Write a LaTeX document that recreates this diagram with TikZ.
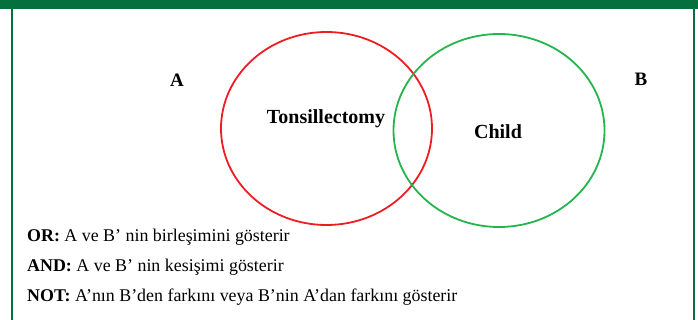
\documentclass[tikz,border=0pt]{standalone}
\usepackage{fontspec}
\setmainfont{Liberation Serif}
\usetikzlibrary{shapes.geometric}
\definecolor{framegreen}{RGB}{4,112,62}
\definecolor{setred}{RGB}{236,30,36}
\definecolor{setgreen}{RGB}{38,180,78}
\tikzstyle{setring}=[draw,ellipse,line width=1.8pt,minimum width=211pt,minimum height=193pt,inner sep=0pt]
\tikzstyle{setname}=[font=\fontsize{20}{22}\selectfont\bfseries,inner sep=0pt]
\tikzstyle{legendline}=[anchor=base west,font=\fontsize{17.9}{20}\selectfont,inner sep=0pt]

\begin{document}
\begin{tikzpicture}[x=1pt,y=-1pt]
\useasboundingbox (0,0) rectangle (698,320);
% frame
\fill[framegreen] (0,0) rectangle (698,9);
\fill[framegreen] (11,9) rectangle (13,320);
\fill[framegreen] (693,9) rectangle (695,320);
% sets
\node [setring,setred] (ringA) at (326.5,128.5) {};
\node [setring,setgreen] (ringB) at (499,130.5) {};
\node [setname] (tonsil) at (326,119) {Tonsillectomy};
\node [setname] (child) at (498,132) {Child};
\node [setname,font=\fontsize{19}{20}\selectfont\bfseries] (labA) at (177,80) {A};
\node [setname,font=\fontsize{19}{20}\selectfont\bfseries] (labB) at (641,79) {B};
% legend
\node [legendline] (orline) at (27,242) {\textbf{OR:} A ve B’ nin birleşimini gösterir};
\node [legendline] (andline) at (27,271) {\textbf{AND:} A ve B’ nin kesişimi gösterir};
\node [legendline] (notline) at (27,301) {\textbf{NOT:} A’nın B’den farkını veya B’nin A’dan farkını gösterir};
\end{tikzpicture}
\end{document}
